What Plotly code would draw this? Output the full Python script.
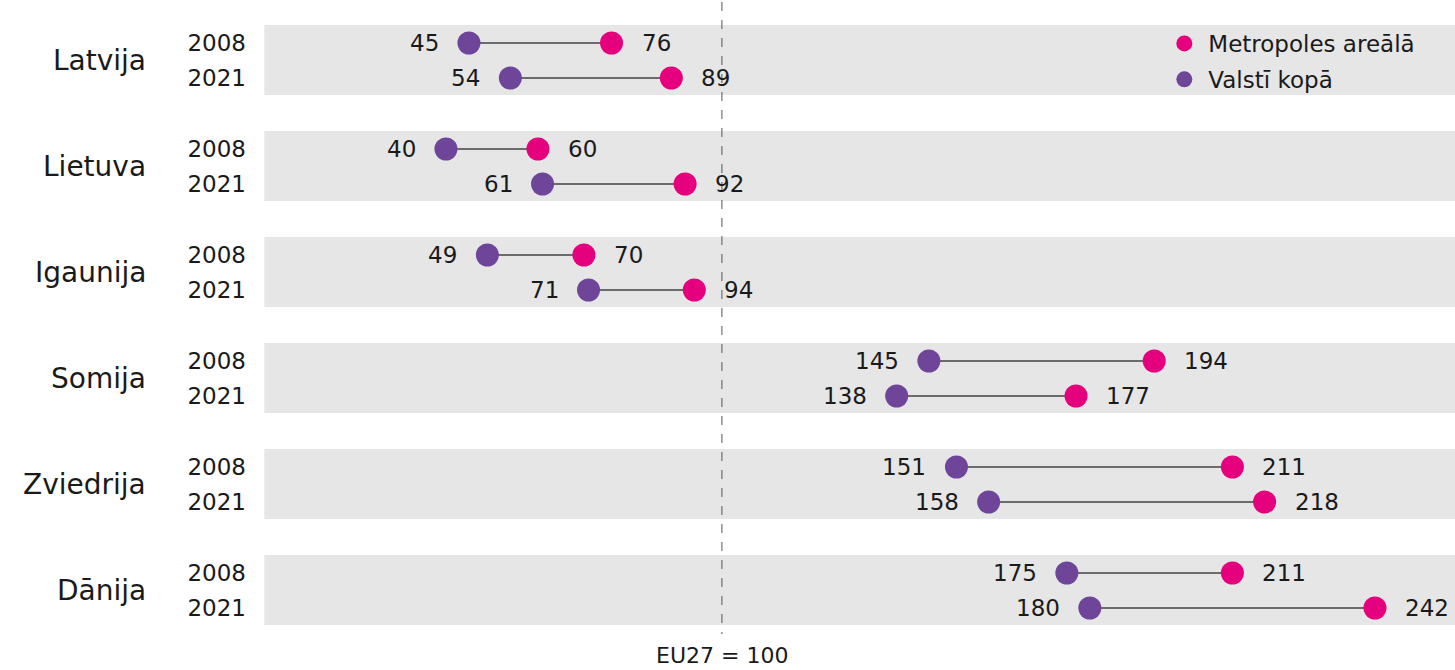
import plotly.graph_objects as go

countries = ["Latvija", "Lietuva", "Igaunija", "Somija", "Zviedrija", "Dānija"]
years = ["2008", "2021"]
national = [[45, 54], [40, 61], [49, 71], [145, 138], [151, 158], [175, 180]]
metro = [[76, 89], [60, 92], [70, 94], [194, 177], [211, 218], [211, 242]]
series_names = ["Metropoles areālā", "Valstī kopā"]
ref_value = 100
ref_label = "EU27 = 100"

PINK = "#E5007E"
PURPLE = "#6E4598"
FONT = "DejaVu Sans"
TXT = "#1a1a1a"

GROUP_STEP = 106
ROW_STEP = 35
TOP = 43
LABEL_SHIFT = 28

ys, nat_x, met_x, ticktext = [], [], [], []
for gi, c in enumerate(countries):
    for yi, yr in enumerate(years):
        ys.append(TOP + gi * GROUP_STEP + yi * ROW_STEP)
        nat_x.append(national[gi][yi])
        met_x.append(metro[gi][yi])
        ticktext.append(yr)

fig = go.Figure()

# grey bands
for gi in range(len(countries)):
    y0 = TOP + gi * GROUP_STEP - 18
    y1 = TOP + gi * GROUP_STEP + ROW_STEP + 17
    fig.add_shape(type="rect", xref="paper", yref="y", x0=0.002, x1=1, y0=y0, y1=y1,
                  fillcolor="#E6E6E6", line_width=0, layer="below")

# reference line
fig.add_shape(type="line", xref="x", yref="y", x0=ref_value, x1=ref_value, y0=2, y1=634,
              line=dict(color="#555555", width=1, dash="dash"), layer="above")

# connectors
lx, ly = [], []
for a, b, y in zip(nat_x, met_x, ys):
    lx += [a, b, None]
    ly += [y, y, None]
fig.add_trace(go.Scatter(x=lx, y=ly, mode="lines", line=dict(color="#6B6B6B", width=2),
                         showlegend=False, hoverinfo="skip"))

fig.add_trace(go.Scatter(x=met_x, y=ys, mode="markers", name=series_names[0],
                         marker=dict(color=PINK, size=23), legendgroup="a"))
fig.add_trace(go.Scatter(x=nat_x, y=ys, mode="markers", name=series_names[1],
                         marker=dict(color=PURPLE, size=23), legendgroup="b"))

# value labels
for v, y in zip(met_x, ys):
    fig.add_annotation(x=v, y=y, text=str(v), showarrow=False, xanchor="left", yanchor="middle",
                       xshift=LABEL_SHIFT, font=dict(size=23, color=TXT))
for v, y in zip(nat_x, ys):
    fig.add_annotation(x=v, y=y, text=str(v), showarrow=False, xanchor="right", yanchor="middle",
                       xshift=-LABEL_SHIFT, font=dict(size=23, color=TXT))

for gi, c in enumerate(countries):
    fig.add_annotation(xref="paper", yref="y", x=-0.0955, y=TOP + gi * GROUP_STEP + ROW_STEP / 2,
                       text=c, showarrow=False, xanchor="right", yanchor="middle",
                       font=dict(size=28, color=TXT))

fig.add_annotation(xref="x", yref="y", x=ref_value, y=655, text=ref_label, showarrow=False,
                   xanchor="center", yanchor="middle", font=dict(size=22, color=TXT))

fig.update_layout(
    width=1455, height=670,
    margin=dict(l=262, r=0, t=0, b=0),
    paper_bgcolor="white", plot_bgcolor="white",
    font=dict(family=FONT, color=TXT),
    xaxis=dict(range=[0, 259.4], visible=False, showgrid=False, zeroline=False),
    yaxis=dict(range=[670, 0], tickmode="array", tickvals=ys, ticktext=ticktext,
               showgrid=False, zeroline=False, ticks="", showline=False,
               tickfont=dict(size=23, color=TXT), ticklabelstandoff=15),
    legend=dict(x=0.753, y=1 - 22 / 670, xanchor="left", yanchor="top",
                bgcolor="rgba(0,0,0,0)", font=dict(size=23, color=TXT),
                tracegroupgap=3, traceorder="grouped", itemwidth=38),
    showlegend=True,
)

fig.write_html("out.html", config={"displayModeBar": False},
               post_script="document.body.style.margin='0';document.body.style.overflow='hidden';")
